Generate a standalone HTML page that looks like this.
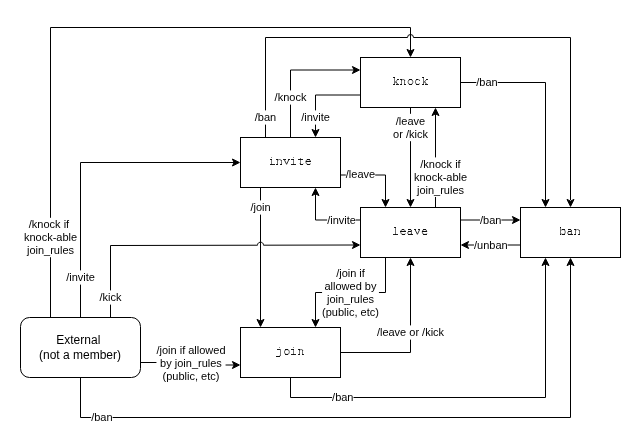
<!DOCTYPE html><html><head><meta charset="utf-8"><style>html,body{margin:0;padding:0;background:#fff;}svg{display:block;will-change:transform;}</style></head><body>
<svg width="641" height="446" viewBox="0 0 641 446">
<rect x="0" y="0" width="641" height="446" fill="#fff"/>
<path d="M 410.50 56.38 L 407.00 49.38 L 410.50 51.13 L 414.00 49.38 Z" fill="#000" stroke="#000" stroke-width="1" stroke-miterlimit="10"/>
<path d="M 50.5 317.5 L 50.5 27.5 L 410.5 27.5 L 410.5 51.132" fill="none" stroke="#000" stroke-width="1" stroke-miterlimit="10"/>
<path d="M 265.5 137.5 L 265.5 37.5 L 407.5 37.5 A 3 3 0 0 1 413.5 37.5 L 570.5 37.5 L 570.5 200" fill="none" stroke="#000"/>
<path d="M 570.50 206.38 L 567.00 199.38 L 570.50 201.13 L 574.00 199.38 Z" fill="#000" stroke="#000" stroke-width="1" stroke-miterlimit="10"/>
<path d="M 359.38 70.00 L 352.38 73.50 L 354.13 70.00 L 352.38 66.50 Z" fill="#000" stroke="#000" stroke-width="1" stroke-miterlimit="10"/>
<path d="M 290.5 137.5 L 290.5 70 L 354.132 70.0" fill="none" stroke="#000" stroke-width="1" stroke-miterlimit="10"/>
<path d="M 315.50 136.38 L 312.00 129.38 L 315.50 131.13 L 319.00 129.38 Z" fill="#000" stroke="#000" stroke-width="1" stroke-miterlimit="10"/>
<path d="M 360.5 95 L 315.5 95 L 315.5 131.132" fill="none" stroke="#000" stroke-width="1" stroke-miterlimit="10"/>
<path d="M 545.50 206.38 L 542.00 199.38 L 545.50 201.13 L 549.00 199.38 Z" fill="#000" stroke="#000" stroke-width="1" stroke-miterlimit="10"/>
<path d="M 460.5 82.5 L 545.5 82.5 L 545.5 201.132" fill="none" stroke="#000" stroke-width="1" stroke-miterlimit="10"/>
<path d="M 410.50 206.38 L 407.00 199.38 L 410.50 201.13 L 414.00 199.38 Z" fill="#000" stroke="#000" stroke-width="1" stroke-miterlimit="10"/>
<path d="M 410.5 107.5 L 410.5 201.132" fill="none" stroke="#000" stroke-width="1" stroke-miterlimit="10"/>
<path d="M 435.50 108.62 L 439.00 115.62 L 435.50 113.87 L 432.00 115.62 Z" fill="#000" stroke="#000" stroke-width="1" stroke-miterlimit="10"/>
<path d="M 435.5 207.5 L 435.5 113.868" fill="none" stroke="#000" stroke-width="1" stroke-miterlimit="10"/>
<path d="M 385.50 206.38 L 382.00 199.38 L 385.50 201.13 L 389.00 199.38 Z" fill="#000" stroke="#000" stroke-width="1" stroke-miterlimit="10"/>
<path d="M 340.5 175 L 385.5 175 L 385.5 201.132" fill="none" stroke="#000" stroke-width="1" stroke-miterlimit="10"/>
<path d="M 315.50 188.62 L 319.00 195.62 L 315.50 193.87 L 312.00 195.62 Z" fill="#000" stroke="#000" stroke-width="1" stroke-miterlimit="10"/>
<path d="M 360.5 220 L 315.5 220 L 315.5 193.868" fill="none" stroke="#000" stroke-width="1" stroke-miterlimit="10"/>
<path d="M 519.38 220.00 L 512.38 223.50 L 514.13 220.00 L 512.38 216.50 Z" fill="#000" stroke="#000" stroke-width="1" stroke-miterlimit="10"/>
<path d="M 460.5 220 L 514.132 220.0" fill="none" stroke="#000" stroke-width="1" stroke-miterlimit="10"/>
<path d="M 461.62 245.00 L 468.62 241.50 L 466.87 245.00 L 468.62 248.50 Z" fill="#000" stroke="#000" stroke-width="1" stroke-miterlimit="10"/>
<path d="M 520.5 245 L 466.868 245.0" fill="none" stroke="#000" stroke-width="1" stroke-miterlimit="10"/>
<path d="M 260.50 326.38 L 257.00 319.38 L 260.50 321.13 L 264.00 319.38 Z" fill="#000" stroke="#000" stroke-width="1" stroke-miterlimit="10"/>
<path d="M 260.5 187.5 L 260.5 321.132" fill="none" stroke="#000" stroke-width="1" stroke-miterlimit="10"/>
<path d="M 239.38 162.50 L 232.38 166.00 L 234.13 162.50 L 232.38 159.00 Z" fill="#000" stroke="#000" stroke-width="1" stroke-miterlimit="10"/>
<path d="M 80.5 317.5 L 80.5 162.5 L 234.132 162.5" fill="none" stroke="#000" stroke-width="1" stroke-miterlimit="10"/>
<path d="M 110.5 317.5 L 110.5 245.5 L 257.5 245.21 C 257.5 241.21 263.5 241.19 263.5 245.19 L 354.13 245" fill="none" stroke="#000"/>
<path d="M 359.38 245.00 L 352.38 248.50 L 354.13 245.00 L 352.38 241.50 Z" fill="#000" stroke="#000" stroke-width="1" stroke-miterlimit="10"/>
<path d="M 315.50 326.38 L 312.00 319.38 L 315.50 321.13 L 319.00 319.38 Z" fill="#000" stroke="#000" stroke-width="1" stroke-miterlimit="10"/>
<path d="M 385.5 257.5 L 385.5 292.5 L 315.5 292.5 L 315.5 321.132" fill="none" stroke="#000" stroke-width="1" stroke-miterlimit="10"/>
<path d="M 410.50 258.62 L 414.00 265.62 L 410.50 263.87 L 407.00 265.62 Z" fill="#000" stroke="#000" stroke-width="1" stroke-miterlimit="10"/>
<path d="M 340.5 352.5 L 410.5 352.5 L 410.5 263.868" fill="none" stroke="#000" stroke-width="1" stroke-miterlimit="10"/>
<path d="M 239.38 365.00 L 232.38 368.50 L 234.13 365.00 L 232.38 361.50 Z" fill="#000" stroke="#000" stroke-width="1" stroke-miterlimit="10"/>
<path d="M 140.5 362.5 L 160 362.5 L 160 365 L 234.132 365.0" fill="none" stroke="#000" stroke-width="1" stroke-miterlimit="10"/>
<path d="M 545.50 258.62 L 549.00 265.62 L 545.50 263.87 L 542.00 265.62 Z" fill="#000" stroke="#000" stroke-width="1" stroke-miterlimit="10"/>
<path d="M 290.5 377.5 L 290.5 397.5 L 545.5 397.5 L 545.5 263.868" fill="none" stroke="#000" stroke-width="1" stroke-miterlimit="10"/>
<path d="M 570.50 258.62 L 574.00 265.62 L 570.50 263.87 L 567.00 265.62 Z" fill="#000" stroke="#000" stroke-width="1" stroke-miterlimit="10"/>
<path d="M 80.5 377.5 L 80.5 417.5 L 570.5 417.5 L 570.5 263.868" fill="none" stroke="#000" stroke-width="1" stroke-miterlimit="10"/>
<rect x="360.5" y="57.5" width="100" height="50" rx="0" ry="0" fill="#fff" stroke="#000" stroke-width="1"/>
<g><path d="M393 77.5H395" stroke="#000" stroke-opacity="0.88" stroke-width="1"/>
<path d="M394.5 77.0V85.0" stroke="#000" stroke-opacity="0.55" stroke-width="1"/>
<path d="M393 84.5H395" stroke="#000" stroke-opacity="0.88" stroke-width="1"/>
<path d="M397 79.5H399" stroke="#000" stroke-opacity="0.88" stroke-width="1"/>
<path d="M397.50 80.00L394.80 82.70" stroke="#000" stroke-opacity="0.8" stroke-width="1"/>
<path d="M395.90 81.90L397.70 84.20" stroke="#000" stroke-opacity="0.8" stroke-width="1"/>
<path d="M396 84.5H399" stroke="#000" stroke-opacity="0.88" stroke-width="1"/>
<path d="M400 79.5H402" stroke="#000" stroke-opacity="0.88" stroke-width="1"/>
<path d="M401.5 79.0V85.0" stroke="#000" stroke-opacity="0.55" stroke-width="1"/>
<path d="M1.6,-3.9 Q2.4,-5 3.4,-5 Q5.2,-5 5.2,-3.6" transform="translate(399.70 84.5)" fill="none" stroke="#000" stroke-opacity="0.75" stroke-width="0.8"/>
<path d="M404.5 80.0V85.0" stroke="#000" stroke-opacity="0.55" stroke-width="1"/>
<path d="M400 84.5H402" stroke="#000" stroke-opacity="0.88" stroke-width="1"/>
<path d="M404 84.5H406" stroke="#000" stroke-opacity="0.88" stroke-width="1"/>
<path d="M3.6,-5 Q6.1,-5 6.1,-2.5 Q6.1,0 3.6,0 Q1.1,0 1.1,-2.5 Q1.1,-5 3.6,-5 Z" transform="translate(406.90 84.5)" fill="none" stroke="#000" stroke-opacity="0.75" stroke-width="0.8"/>
<path d="M409 79.5H412" stroke="#000" stroke-opacity="0.88" stroke-width="1"/>
<path d="M409 84.5H412" stroke="#000" stroke-opacity="0.88" stroke-width="1"/>
<path d="M5.6,-4.3 Q4.8,-5 3.4,-5 Q1.2,-5 1.2,-2.5 Q1.2,0 3.6,0 Q4.9,0 5.9,-1.0" transform="translate(414.10 84.5)" fill="none" stroke="#000" stroke-opacity="0.75" stroke-width="0.8"/>
<path d="M416 79.5H418" stroke="#000" stroke-opacity="0.88" stroke-width="1"/>
<path d="M416 84.5H419" stroke="#000" stroke-opacity="0.88" stroke-width="1"/>
<path d="M419.5 80.0V81.0" stroke="#000" stroke-opacity="0.55" stroke-width="1"/>
<path d="M422 77.5H424" stroke="#000" stroke-opacity="0.88" stroke-width="1"/>
<path d="M423.5 77.0V85.0" stroke="#000" stroke-opacity="0.55" stroke-width="1"/>
<path d="M422 84.5H424" stroke="#000" stroke-opacity="0.88" stroke-width="1"/>
<path d="M426 79.5H428" stroke="#000" stroke-opacity="0.88" stroke-width="1"/>
<path d="M426.30 80.00L423.60 82.70" stroke="#000" stroke-opacity="0.8" stroke-width="1"/>
<path d="M424.70 81.90L426.50 84.20" stroke="#000" stroke-opacity="0.8" stroke-width="1"/>
<path d="M425 84.5H428" stroke="#000" stroke-opacity="0.88" stroke-width="1"/></g>
<rect x="240.5" y="137.5" width="100" height="50" rx="0" ry="0" fill="#fff" stroke="#000" stroke-width="1"/>
<g><rect x="271" y="157.0" width="1" height="1" fill="#000" fill-opacity="0.45"/>
<path d="M270 159.5H272" stroke="#000" stroke-opacity="0.88" stroke-width="1"/>
<path d="M271.5 159.0V165.0" stroke="#000" stroke-opacity="0.55" stroke-width="1"/>
<path d="M270 164.5H275" stroke="#000" stroke-opacity="0.88" stroke-width="1"/>
<path d="M276 159.5H278" stroke="#000" stroke-opacity="0.88" stroke-width="1"/>
<path d="M277.5 159.0V165.0" stroke="#000" stroke-opacity="0.55" stroke-width="1"/>
<path d="M1.6,-3.9 Q2.4,-5 3.4,-5 Q5.2,-5 5.2,-3.6" transform="translate(276.10 164.5)" fill="none" stroke="#000" stroke-opacity="0.75" stroke-width="0.8"/>
<path d="M281.5 160.0V165.0" stroke="#000" stroke-opacity="0.55" stroke-width="1"/>
<path d="M276 164.5H278" stroke="#000" stroke-opacity="0.88" stroke-width="1"/>
<path d="M280 164.5H282" stroke="#000" stroke-opacity="0.88" stroke-width="1"/>
<path d="M283 159.5H286" stroke="#000" stroke-opacity="0.88" stroke-width="1"/>
<path d="M288 159.5H290" stroke="#000" stroke-opacity="0.88" stroke-width="1"/>
<path d="M284.40 159.90L286.60 164.30" stroke="#000" stroke-opacity="0.8" stroke-width="1"/>
<path d="M288.70 159.90L286.60 164.30" stroke="#000" stroke-opacity="0.8" stroke-width="1"/>
<rect x="293" y="157.0" width="1" height="1" fill="#000" fill-opacity="0.45"/>
<path d="M291 159.5H294" stroke="#000" stroke-opacity="0.88" stroke-width="1"/>
<path d="M293.5 159.0V165.0" stroke="#000" stroke-opacity="0.55" stroke-width="1"/>
<path d="M291 164.5H296" stroke="#000" stroke-opacity="0.88" stroke-width="1"/>
<path d="M300.5 158.0V164.0" stroke="#000" stroke-opacity="0.55" stroke-width="1"/>
<path d="M2.3,-1.4 Q2.3,0 3.6,0 L4.6,0 Q5.3,0 5.9,-0.9" transform="translate(297.70 164.5)" fill="none" stroke="#000" stroke-opacity="0.75" stroke-width="0.8"/>
<path d="M298 159.5H303" stroke="#000" stroke-opacity="0.88" stroke-width="1"/>
<path d="M300 164.5H303" stroke="#000" stroke-opacity="0.88" stroke-width="1"/>
<path d="M0.9,-3 L5.6,-3 Q5.6,-5 3.2,-5 Q0.9,-5 0.9,-2.5 Q0.9,0 3.4,0 Q4.9,0 5.9,-0.8" transform="translate(304.90 164.5)" fill="none" stroke="#000" stroke-opacity="0.75" stroke-width="0.8"/>
<path d="M307 159.5H310" stroke="#000" stroke-opacity="0.88" stroke-width="1"/>
<path d="M306 161.5H311" stroke="#000" stroke-opacity="0.88" stroke-width="1"/>
<path d="M307 164.5H310" stroke="#000" stroke-opacity="0.88" stroke-width="1"/></g>
<rect x="360.5" y="207.5" width="100" height="50" rx="0" ry="0" fill="#fff" stroke="#000" stroke-width="1"/>
<g><path d="M394 227.5H396" stroke="#000" stroke-opacity="0.88" stroke-width="1"/>
<path d="M395.5 227.0V235.0" stroke="#000" stroke-opacity="0.55" stroke-width="1"/>
<path d="M393 234.5H398" stroke="#000" stroke-opacity="0.88" stroke-width="1"/>
<path d="M0.9,-3 L5.6,-3 Q5.6,-5 3.2,-5 Q0.9,-5 0.9,-2.5 Q0.9,0 3.4,0 Q4.9,0 5.9,-0.8" transform="translate(399.70 234.5)" fill="none" stroke="#000" stroke-opacity="0.75" stroke-width="0.8"/>
<path d="M402 229.5H404" stroke="#000" stroke-opacity="0.88" stroke-width="1"/>
<path d="M400 231.5H406" stroke="#000" stroke-opacity="0.88" stroke-width="1"/>
<path d="M402 234.5H405" stroke="#000" stroke-opacity="0.88" stroke-width="1"/>
<path d="M1.1,-4.7 Q2,-5 3.0,-5 Q4.6,-5 4.6,-3.6" transform="translate(406.90 234.5)" fill="none" stroke="#000" stroke-opacity="0.75" stroke-width="0.8"/>
<path d="M411.5 230.0V235.0" stroke="#000" stroke-opacity="0.55" stroke-width="1"/>
<path d="M411 234.5H413" stroke="#000" stroke-opacity="0.88" stroke-width="1"/>
<path d="M4.6,-3 L2.4,-3 Q0.7,-3 0.7,-1.5 Q0.7,0 2.4,0 Q3.8,0 4.6,-1" transform="translate(406.90 234.5)" fill="none" stroke="#000" stroke-opacity="0.75" stroke-width="0.8"/>
<path d="M408 229.5H411" stroke="#000" stroke-opacity="0.88" stroke-width="1"/>
<path d="M408 231.5H411" stroke="#000" stroke-opacity="0.88" stroke-width="1"/>
<path d="M408 234.5H411" stroke="#000" stroke-opacity="0.88" stroke-width="1"/>
<path d="M414 229.5H416" stroke="#000" stroke-opacity="0.88" stroke-width="1"/>
<path d="M418 229.5H420" stroke="#000" stroke-opacity="0.88" stroke-width="1"/>
<path d="M415.20 229.90L417.40 234.30" stroke="#000" stroke-opacity="0.8" stroke-width="1"/>
<path d="M419.50 229.90L417.40 234.30" stroke="#000" stroke-opacity="0.8" stroke-width="1"/>
<path d="M0.9,-3 L5.6,-3 Q5.6,-5 3.2,-5 Q0.9,-5 0.9,-2.5 Q0.9,0 3.4,0 Q4.9,0 5.9,-0.8" transform="translate(421.30 234.5)" fill="none" stroke="#000" stroke-opacity="0.75" stroke-width="0.8"/>
<path d="M423 229.5H426" stroke="#000" stroke-opacity="0.88" stroke-width="1"/>
<path d="M422 231.5H427" stroke="#000" stroke-opacity="0.88" stroke-width="1"/>
<path d="M423 234.5H427" stroke="#000" stroke-opacity="0.88" stroke-width="1"/></g>
<rect x="520.5" y="207.5" width="100" height="50" rx="0" ry="0" fill="#fff" stroke="#000" stroke-width="1"/>
<g><path d="M560 227.5H561" stroke="#000" stroke-opacity="0.88" stroke-width="1"/>
<path d="M560.5 227.0V235.0" stroke="#000" stroke-opacity="0.55" stroke-width="1"/>
<path d="M560 234.5H561" stroke="#000" stroke-opacity="0.88" stroke-width="1"/>
<path d="M1.0,-3.8 Q1.9,-5 3.5,-5 Q5.6,-5 5.6,-2.5 Q5.6,0 3.5,0 Q1.9,0 1.0,-1.2" transform="translate(559.70 234.5)" fill="none" stroke="#000" stroke-opacity="0.75" stroke-width="0.8"/>
<path d="M562 229.5H565" stroke="#000" stroke-opacity="0.88" stroke-width="1"/>
<path d="M562 234.5H565" stroke="#000" stroke-opacity="0.88" stroke-width="1"/>
<path d="M1.1,-4.7 Q2,-5 3.0,-5 Q4.6,-5 4.6,-3.6" transform="translate(566.90 234.5)" fill="none" stroke="#000" stroke-opacity="0.75" stroke-width="0.8"/>
<path d="M571.5 230.0V235.0" stroke="#000" stroke-opacity="0.55" stroke-width="1"/>
<path d="M571 234.5H573" stroke="#000" stroke-opacity="0.88" stroke-width="1"/>
<path d="M4.6,-3 L2.4,-3 Q0.7,-3 0.7,-1.5 Q0.7,0 2.4,0 Q3.8,0 4.6,-1" transform="translate(566.90 234.5)" fill="none" stroke="#000" stroke-opacity="0.75" stroke-width="0.8"/>
<path d="M568 229.5H571" stroke="#000" stroke-opacity="0.88" stroke-width="1"/>
<path d="M568 231.5H571" stroke="#000" stroke-opacity="0.88" stroke-width="1"/>
<path d="M568 234.5H571" stroke="#000" stroke-opacity="0.88" stroke-width="1"/>
<path d="M574 229.5H576" stroke="#000" stroke-opacity="0.88" stroke-width="1"/>
<path d="M575.5 229.0V235.0" stroke="#000" stroke-opacity="0.55" stroke-width="1"/>
<path d="M1.6,-3.9 Q2.4,-5 3.4,-5 Q5.2,-5 5.2,-3.6" transform="translate(574.10 234.5)" fill="none" stroke="#000" stroke-opacity="0.75" stroke-width="0.8"/>
<path d="M579.5 230.0V235.0" stroke="#000" stroke-opacity="0.55" stroke-width="1"/>
<path d="M574 234.5H576" stroke="#000" stroke-opacity="0.88" stroke-width="1"/>
<path d="M578 234.5H580" stroke="#000" stroke-opacity="0.88" stroke-width="1"/></g>
<rect x="240.5" y="327.5" width="100" height="50" rx="0" ry="0" fill="#fff" stroke="#000" stroke-width="1"/>
<g><rect x="279" y="347.0" width="1" height="1" fill="#000" fill-opacity="0.45"/>
<path d="M277 349.5H280" stroke="#000" stroke-opacity="0.88" stroke-width="1"/>
<path d="M280.5 349.0V356.0" stroke="#000" stroke-opacity="0.55" stroke-width="1"/>
<path d="M3.9,1 Q3.9,2 2.9,2 L0.0,2" transform="translate(276.10 354.5)" fill="none" stroke="#000" stroke-opacity="0.75" stroke-width="0.8"/>
<path d="M276 356.5H280" stroke="#000" stroke-opacity="0.88" stroke-width="1"/>
<path d="M3.6,-5 Q6.1,-5 6.1,-2.5 Q6.1,0 3.6,0 Q1.1,0 1.1,-2.5 Q1.1,-5 3.6,-5 Z" transform="translate(283.30 354.5)" fill="none" stroke="#000" stroke-opacity="0.75" stroke-width="0.8"/>
<path d="M285 349.5H288" stroke="#000" stroke-opacity="0.88" stroke-width="1"/>
<path d="M285 354.5H288" stroke="#000" stroke-opacity="0.88" stroke-width="1"/>
<rect x="293" y="347.0" width="1" height="1" fill="#000" fill-opacity="0.45"/>
<path d="M291 349.5H294" stroke="#000" stroke-opacity="0.88" stroke-width="1"/>
<path d="M293.5 349.0V355.0" stroke="#000" stroke-opacity="0.55" stroke-width="1"/>
<path d="M291 354.5H296" stroke="#000" stroke-opacity="0.88" stroke-width="1"/>
<path d="M298 349.5H300" stroke="#000" stroke-opacity="0.88" stroke-width="1"/>
<path d="M299.5 349.0V355.0" stroke="#000" stroke-opacity="0.55" stroke-width="1"/>
<path d="M1.6,-3.9 Q2.4,-5 3.4,-5 Q5.2,-5 5.2,-3.6" transform="translate(297.70 354.5)" fill="none" stroke="#000" stroke-opacity="0.75" stroke-width="0.8"/>
<path d="M302.5 350.0V355.0" stroke="#000" stroke-opacity="0.55" stroke-width="1"/>
<path d="M298 354.5H300" stroke="#000" stroke-opacity="0.88" stroke-width="1"/>
<path d="M302 354.5H304" stroke="#000" stroke-opacity="0.88" stroke-width="1"/></g>
<rect x="20.5" y="317.5" width="120" height="60" rx="9" ry="9" fill="#fff" stroke="#000" stroke-width="1"/>
<text x="78.30" y="340.00" font-family="Liberation Sans" font-size="12" text-anchor="middle" dominant-baseline="central">External</text>
<text x="80.00" y="355.00" font-family="Liberation Sans" font-size="12" text-anchor="middle" dominant-baseline="central">(not a member)</text>
<rect x="254.78" y="110.40" width="21.44" height="14.20" fill="#fff"/>
<text x="265.50" y="117.00" font-family="Liberation Sans" font-size="11" text-anchor="middle" dominant-baseline="central">/ban</text>
<rect x="274.59" y="90.40" width="31.81" height="14.20" fill="#fff"/>
<text x="290.50" y="97.00" font-family="Liberation Sans" font-size="11" text-anchor="middle" dominant-baseline="central">/knock</text>
<rect x="301.12" y="110.40" width="28.75" height="14.20" fill="#fff"/>
<text x="315.50" y="117.00" font-family="Liberation Sans" font-size="11" text-anchor="middle" dominant-baseline="central">/invite</text>
<rect x="476.28" y="75.40" width="21.44" height="14.20" fill="#fff"/>
<text x="487.00" y="82.00" font-family="Liberation Sans" font-size="11" text-anchor="middle" dominant-baseline="central">/ban</text>
<rect x="393.08" y="113.80" width="34.84" height="27.40" fill="#fff"/>
<text x="410.50" y="120.50" font-family="Liberation Sans" font-size="11" text-anchor="middle" dominant-baseline="central">/leave</text>
<text x="410.50" y="133.50" font-family="Liberation Sans" font-size="11" text-anchor="middle" dominant-baseline="central">or /kick</text>
<rect x="413.89" y="157.40" width="53.22" height="39.60" fill="#fff"/>
<text x="440.50" y="164.20" font-family="Liberation Sans" font-size="11" text-anchor="middle" dominant-baseline="central">/knock if</text>
<text x="440.50" y="177.20" font-family="Liberation Sans" font-size="11" text-anchor="middle" dominant-baseline="central">knock-able</text>
<text x="440.50" y="190.20" font-family="Liberation Sans" font-size="11" text-anchor="middle" dominant-baseline="central">join_rules</text>
<rect x="345.81" y="167.60" width="29.38" height="14.20" fill="#fff"/>
<text x="360.50" y="174.20" font-family="Liberation Sans" font-size="11" text-anchor="middle" dominant-baseline="central">/leave</text>
<rect x="327.12" y="213.40" width="28.75" height="14.20" fill="#fff"/>
<text x="341.50" y="220.00" font-family="Liberation Sans" font-size="11" text-anchor="middle" dominant-baseline="central">/invite</text>
<rect x="479.98" y="213.40" width="21.44" height="14.20" fill="#fff"/>
<text x="490.70" y="220.00" font-family="Liberation Sans" font-size="11" text-anchor="middle" dominant-baseline="central">/ban</text>
<rect x="473.96" y="238.40" width="33.69" height="14.20" fill="#fff"/>
<text x="490.80" y="245.00" font-family="Liberation Sans" font-size="11" text-anchor="middle" dominant-baseline="central">/unban</text>
<rect x="250.41" y="200.40" width="20.19" height="14.20" fill="#fff"/>
<text x="260.50" y="207.00" font-family="Liberation Sans" font-size="11" text-anchor="middle" dominant-baseline="central">/join</text>
<rect x="23.89" y="217.80" width="53.22" height="39.40" fill="#fff"/>
<text x="49.00" y="224.00" font-family="Liberation Sans" font-size="11" text-anchor="middle" dominant-baseline="central">/knock if</text>
<text x="50.50" y="237.00" font-family="Liberation Sans" font-size="11" text-anchor="middle" dominant-baseline="central">knock-able</text>
<text x="50.50" y="250.00" font-family="Liberation Sans" font-size="11" text-anchor="middle" dominant-baseline="central">join_rules</text>
<rect x="66.12" y="270.40" width="28.75" height="14.20" fill="#fff"/>
<text x="80.50" y="277.00" font-family="Liberation Sans" font-size="11" text-anchor="middle" dominant-baseline="central">/invite</text>
<rect x="99.50" y="290.40" width="22.00" height="14.20" fill="#fff"/>
<text x="110.50" y="297.00" font-family="Liberation Sans" font-size="11" text-anchor="middle" dominant-baseline="central">/kick</text>
<rect x="322.06" y="266.10" width="56.88" height="53.80" fill="#fff"/>
<text x="350.50" y="272.70" font-family="Liberation Sans" font-size="11" text-anchor="middle" dominant-baseline="central">/join if</text>
<text x="350.50" y="285.90" font-family="Liberation Sans" font-size="11" text-anchor="middle" dominant-baseline="central">allowed by</text>
<text x="350.50" y="299.10" font-family="Liberation Sans" font-size="11" text-anchor="middle" dominant-baseline="central">join_rules</text>
<text x="350.50" y="312.30" font-family="Liberation Sans" font-size="11" text-anchor="middle" dominant-baseline="central">(public, etc)</text>
<rect x="376.86" y="325.40" width="67.28" height="14.20" fill="#fff"/>
<text x="410.50" y="332.00" font-family="Liberation Sans" font-size="11" text-anchor="middle" dominant-baseline="central">/leave or /kick</text>
<rect x="156.44" y="343.20" width="69.12" height="40.60" fill="#fff"/>
<text x="191.00" y="350.00" font-family="Liberation Sans" font-size="11" text-anchor="middle" dominant-baseline="central">/join if allowed</text>
<text x="191.00" y="363.00" font-family="Liberation Sans" font-size="11" text-anchor="middle" dominant-baseline="central">by join_rules</text>
<text x="191.00" y="376.00" font-family="Liberation Sans" font-size="11" text-anchor="middle" dominant-baseline="central">(public, etc)</text>
<rect x="332.08" y="390.00" width="21.44" height="14.20" fill="#fff"/>
<text x="342.80" y="396.60" font-family="Liberation Sans" font-size="11" text-anchor="middle" dominant-baseline="central">/ban</text>
<rect x="91.18" y="410.00" width="21.44" height="14.20" fill="#fff"/>
<text x="101.90" y="416.60" font-family="Liberation Sans" font-size="11" text-anchor="middle" dominant-baseline="central">/ban</text>
</svg></body></html>
